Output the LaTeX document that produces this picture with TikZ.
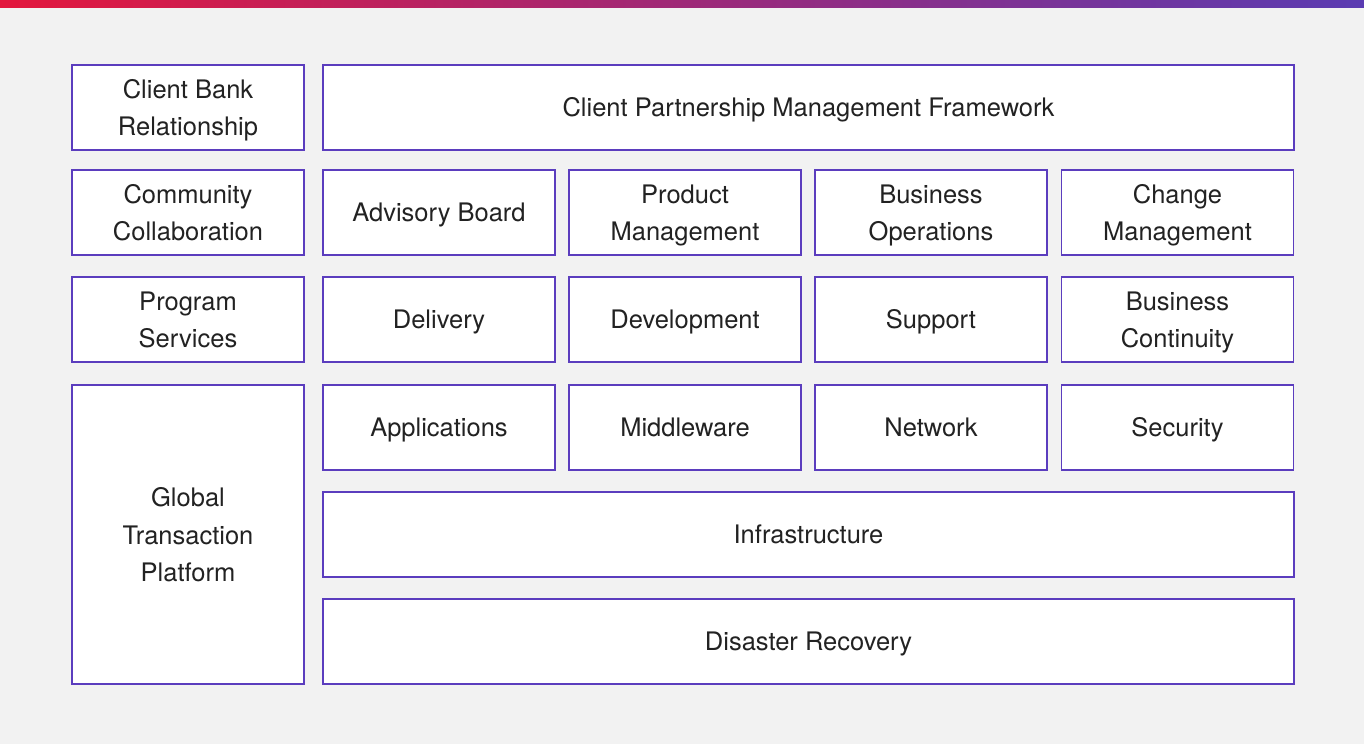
\documentclass[tikz,border=0pt]{standalone}
\usepackage{fontspec}
\setmainfont{TeX Gyre Heros}
\usetikzlibrary{positioning}
\definecolor{boxline}{HTML}{5B3DBE}
\definecolor{pagebg}{HTML}{F2F2F2}
\definecolor{barred}{HTML}{E3173D}
\definecolor{barmid}{HTML}{A02470}
\definecolor{barblue}{HTML}{5A3BB2}
\definecolor{ink}{HTML}{222222}
\tikzstyle{boxbase}=[draw=boxline,line width=1.3pt,fill=white,minimum width=232pt,minimum height=85pt,inner sep=0pt,align=center,text=ink,font=\fontsize{25.5}{37.5}\selectfont]
\tikzstyle{block}=[boxbase,text height=24.7pt,text depth=6.4pt]
\tikzstyle{blockii}=[boxbase,text depth=0pt]
\tikzstyle{wide}=[block,minimum width=971pt]
\tikzstyle{tall}=[blockii,minimum height=299pt]

\begin{document}
\begin{tikzpicture}[x=1pt,y=-1pt]

% Page and top stripe
\fill[pagebg] (0,0) rectangle (1364,744);
\shade[left color=barred,middle color=barmid,right color=barblue] (0,0) rectangle (1364,7);
\useasboundingbox (0,0) rectangle (1364,744);

% Left column
\foreach \pos/\name/\txt in {{(188,107.5)/cbr/{Client Bank\\Relationship}}, {(188,212.5)/cc/{Community\\Collaboration}}, {(188,319.5)/ps/{Program\\Services}}}
\node[blockii] (\name) at \pos {\txt};
\node[tall] (gtp) at (188,534.5) {Global\\Transaction\\Platform};

% Wide rows
\foreach \pos/\name/\txt in {{(808.5,107.5)/cpmf/{Client Partnership Management Framework}}, {(808.5,534.5)/infra/{Infrastructure}}, {(808.5,641.5)/dr/{Disaster Recovery}}}
\node[wide] (\name) at \pos {\txt};

% Grid of four columns
\foreach \pos/\name/\kind/\txt in {{(439,212.5)/ab/block/{Advisory Board}}, {(685,212.5)/pm/blockii/{Product\\Management}}, {(931,212.5)/bo/blockii/{Business\\Operations}}, {(1177.5,212.5)/cm/blockii/{Change\\Management}},
  {(439,319.5)/del/block/{Delivery}}, {(685,319.5)/dev/block/{Development}}, {(931,319.5)/sup/block/{Support}}, {(1177.5,319.5)/bc/blockii/{Business\\Continuity}},
  {(439,427.5)/app/block/{Applications}}, {(685,427.5)/mw/block/{Middleware}}, {(931,427.5)/net/block/{Network}}, {(1177.5,427.5)/sec/block/{Security}}}
\node[\kind] (\name) at \pos {\txt};

\end{tikzpicture}
\end{document}
